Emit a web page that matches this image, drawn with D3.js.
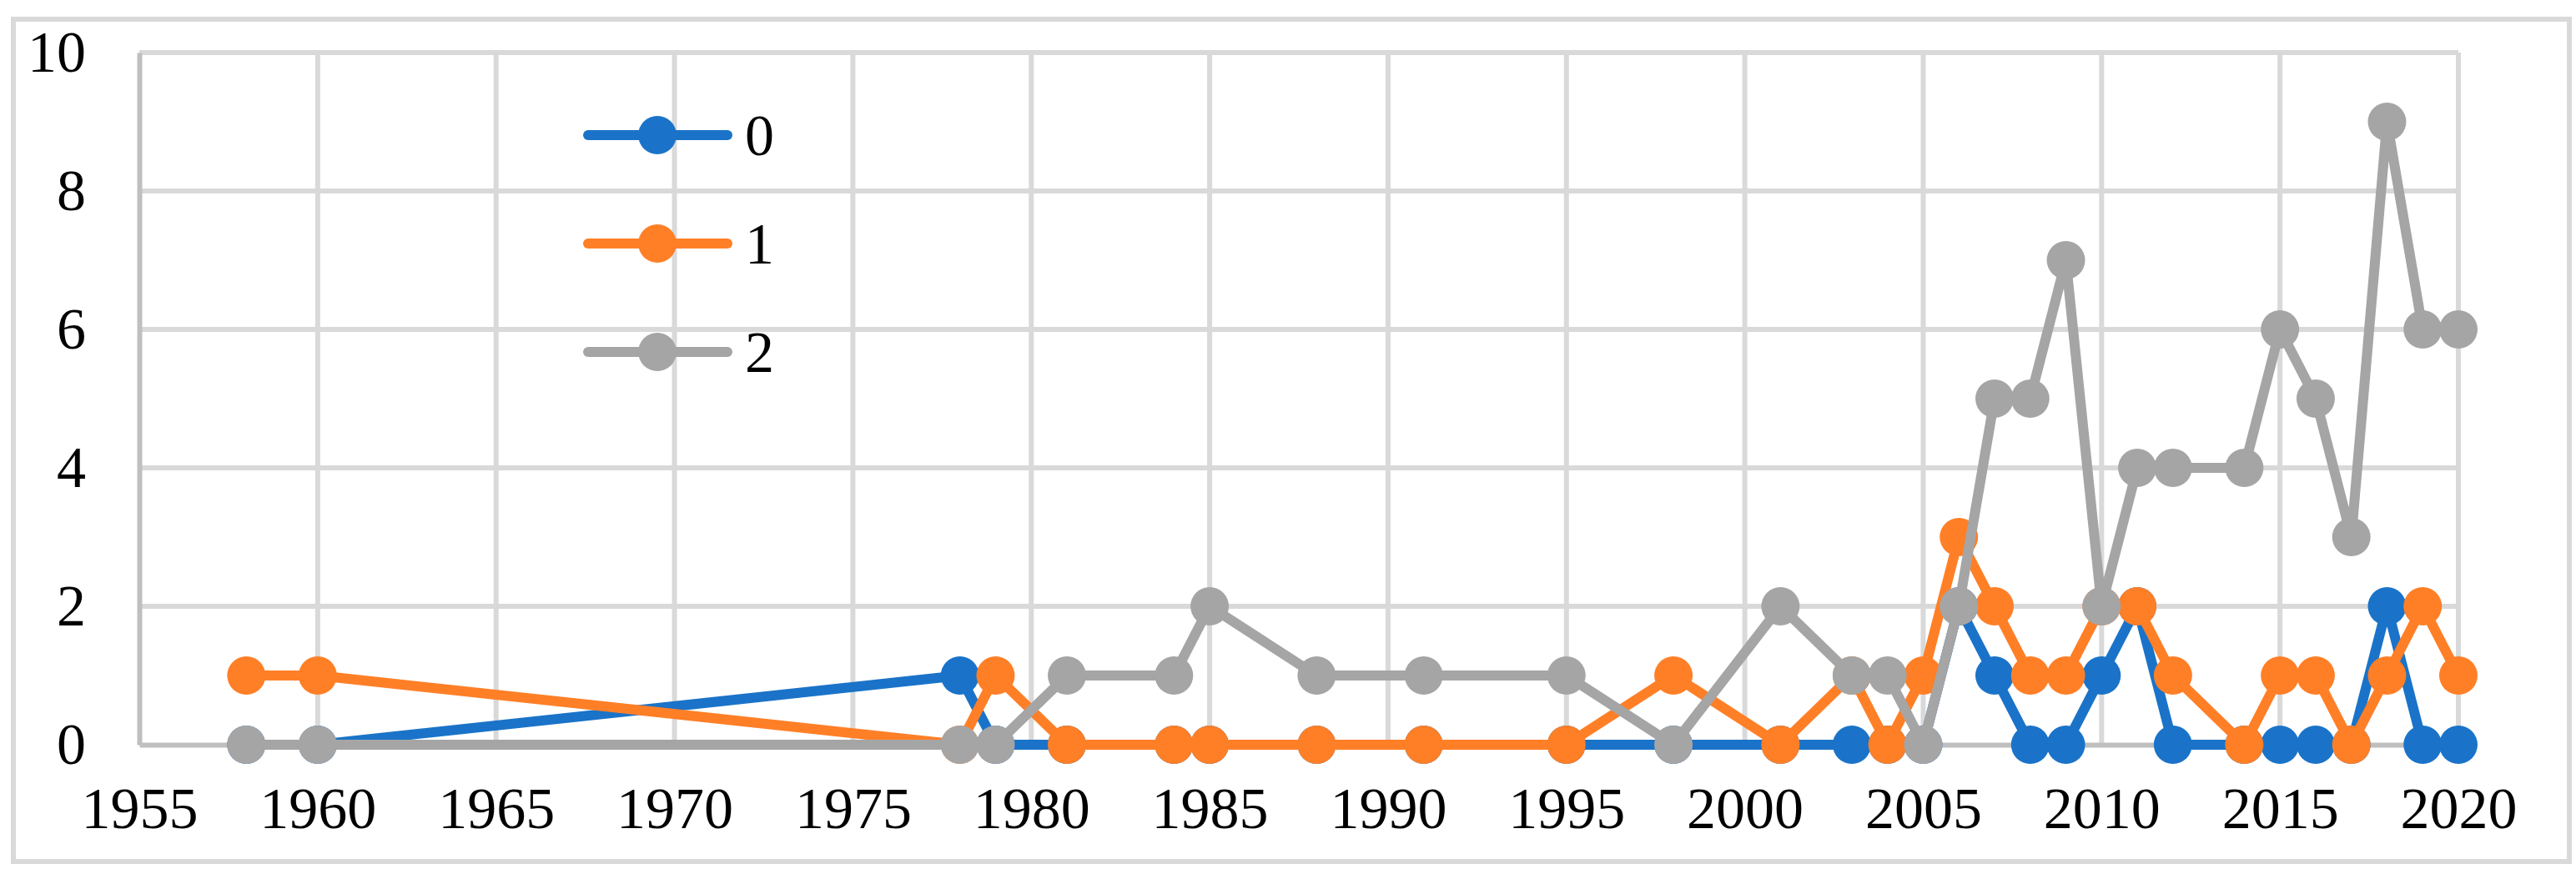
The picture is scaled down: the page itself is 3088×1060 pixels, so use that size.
<!DOCTYPE html>
<html>
<head>
<meta charset="utf-8">
<script src="https://cdn.jsdelivr.net/npm/d3@7"></script>
<style>
  body { margin: 0; background: #fff; }
  text { font-family: "Liberation Serif", "Times New Roman", serif; }
</style>
</head>
<body>
<div id="chart"></div>
<script>
// data
const years = [1958, 1960, 1978, 1979, 1981, 1984, 1985, 1988, 1991, 1995, 1998, 2001, 2003, 2004, 2005,
               2006, 2007, 2008, 2009, 2010, 2011, 2012, 2014, 2015, 2016, 2017, 2018, 2019, 2020];
const series0 = [0, 0, 1, 0, 0, 0, 0, 0, 0, 0, 0, 0, 0, 0, 0, 2, 1, 0, 0, 1, 2, 0, 0, 0, 0, 0, 2, 0, 0];
const series1 = [1, 1, 0, 1, 0, 0, 0, 0, 0, 0, 1, 0, 1, 0, 1, 3, 2, 1, 1, 2, 2, 1, 0, 1, 1, 0, 1, 2, 1];
const series2 = [0, 0, 0, 0, 1, 1, 2, 1, 1, 1, 0, 2, 1, 1, 0, 2, 5, 5, 7, 2, 4, 4, 4, 6, 5, 3, 9, 6, 6];
const seriesNames = ['0', '1', '2'];
const xTicks = d3.range(1955, 2021, 5);
const yTicks = [0, 2, 4, 6, 8, 10];

const colors = ['#1a73c8', '#ff7f27', '#a5a5a5'];

function draw () {
    const dimensions = { width: 3088, height: 1060, margin: { top: 63, bottom: 167, left: 167, right: 141 } };
    const svg = d3.select('#chart').append('svg')
        .attr('width', dimensions.width)
        .attr('height', dimensions.height);

    // outer chart border
    svg.append('rect')
        .attr('x', 16).attr('y', 23)
        .attr('width', 3064).attr('height', 1010)
        .attr('fill', 'none').attr('stroke', '#d9d9d9').attr('stroke-width', 6);

    const x = d3.scaleLinear().domain([1955, 2020])
        .range([dimensions.margin.left, dimensions.width - dimensions.margin.right]);
    const y = d3.scaleLinear().domain([0, 10])
        .range([dimensions.height - dimensions.margin.bottom, dimensions.margin.top]);

    // gridlines
    svg.append('g').selectAll('line').data(xTicks.slice(1)).join('line')
        .attr('x1', d => x(d)).attr('x2', d => x(d))
        .attr('y1', y(10)).attr('y2', y(0))
        .attr('stroke', '#d9d9d9').attr('stroke-width', 6);
    svg.append('g').selectAll('line').data(yTicks.slice(1)).join('line')
        .attr('x1', x(1955)).attr('x2', x(2020))
        .attr('y1', d => y(d)).attr('y2', d => y(d))
        .attr('stroke', '#d9d9d9').attr('stroke-width', 6);

    // axes
    const xAxis = svg.append('g').attr('transform', `translate(0,${y(0)})`)
        .call(d3.axisBottom(x).tickValues(xTicks).tickFormat(d3.format('d')).tickSize(0).tickPadding(50));
    xAxis.select('.domain').attr('stroke', '#bfbfbf').attr('stroke-width', 6);
    xAxis.selectAll('text').attr('font-size', 70).attr('fill', '#000')
        .attr('font-family', '"Liberation Serif", serif');

    const yAxis = svg.append('g').attr('transform', `translate(${x(1955)},0)`)
        .call(d3.axisLeft(y).tickValues(yTicks).tickSize(0).tickPadding(64));
    yAxis.select('.domain').attr('stroke', '#bfbfbf').attr('stroke-width', 6);
    yAxis.selectAll('text').attr('font-size', 70).attr('fill', '#000')
        .attr('font-family', '"Liberation Serif", serif');

    // lines and markers
    const allSeries = [series0, series1, series2];
    const line = d3.line().x((d, i) => x(years[i])).y(d => y(d));
    allSeries.forEach((vals, s) => {
        const g = svg.append('g');
        g.append('path').datum(vals)
            .attr('d', line)
            .attr('fill', 'none').attr('stroke', colors[s])
            .attr('stroke-width', 12).attr('stroke-linejoin', 'round');
        g.selectAll('circle').data(vals).join('circle')
            .attr('cx', (d, i) => x(years[i])).attr('cy', d => y(d))
            .attr('r', 23).attr('fill', colors[s]);
    });

    // legend
    const legend = svg.append('g');
    seriesNames.forEach((name, i) => {
        const ly = 162 + i * 130;
        legend.append('line')
            .attr('x1', 705).attr('x2', 872).attr('y1', ly).attr('y2', ly)
            .attr('stroke', colors[i]).attr('stroke-width', 12).attr('stroke-linecap', 'round');
        legend.append('circle').attr('cx', 788).attr('cy', ly).attr('r', 23).attr('fill', colors[i]);
        legend.append('text').attr('x', 893).attr('y', ly + 24)
            .attr('font-size', 70).text(name);
    });
}

draw();
</script>
</body>
</html>
